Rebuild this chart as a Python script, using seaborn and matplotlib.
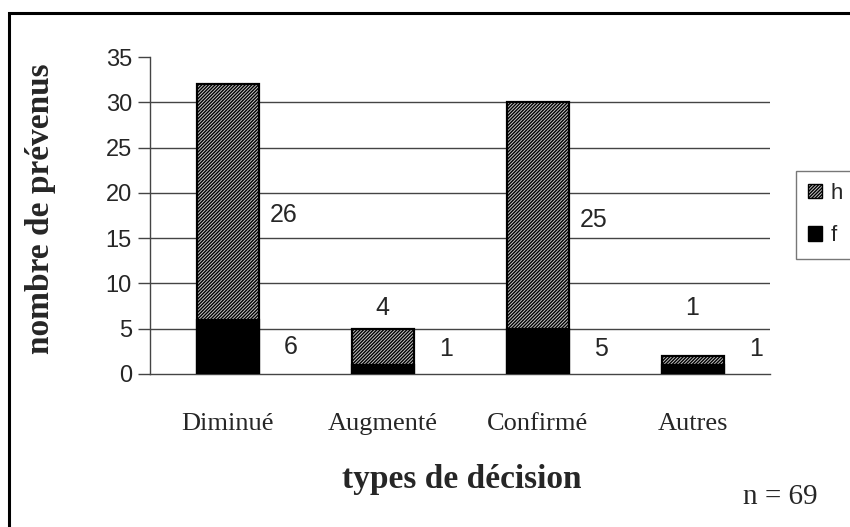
import matplotlib
matplotlib.use("Agg")
import matplotlib.pyplot as plt
from matplotlib.patches import Patch, Rectangle
import seaborn as sns
import pandas as pd

categories = ["Diminué", "Augmenté", "Confirmé", "Autres"]
f_values = [6, 1, 5, 1]
h_values = [26, 4, 25, 1]
y_ticks = [0, 5, 10, 15, 20, 25, 30, 35]
n_total = 69

df = pd.DataFrame({"decision": categories, "f": f_values, "h": h_values})
df["total"] = df["f"] + df["h"]

sns.set_style("white")
plt.rcParams["hatch.linewidth"] = 1.0
SANS = "Liberation Sans"
SERIF = "Liberation Serif"
HATCH = "//////////"

fig = plt.figure(figsize=(8.5, 5.27), dpi=100)
ax = fig.add_axes([150 / 850, 1 - 374 / 527, 620 / 850, 317 / 527])

# stacked bars: total (hatched h) first, then f drawn over its lower part
sns.barplot(data=df, x="decision", y="total", color="#c8c8c8", width=0.4,
            edgecolor="black", linewidth=1.6, ax=ax, zorder=3)
for p in ax.patches:
    p.set_hatch(HATCH)
    p.set_facecolor("#c8c8c8")
sns.barplot(data=df, x="decision", y="f", color="black", width=0.4,
            edgecolor="black", linewidth=1.6, ax=ax, zorder=4)

ax.set_xlim(-0.5, 3.5)
ax.set_ylim(0, 35)
ax.set_yticks(y_ticks)
ax.set_yticklabels([str(t) for t in y_ticks], fontfamily=SANS, fontsize=17)
for t in y_ticks[1:-1]:
    ax.axhline(t, color="#444444", lw=1, zorder=1)

ax.set_xticks(range(len(categories)))
ax.set_xticklabels(categories, fontfamily=SERIF, fontsize=19)
ax.set_xticks([i - 0.5 for i in range(len(categories) + 1)], minor=True)
ax.tick_params(axis="x", which="major", length=0, pad=28)
ax.tick_params(axis="x", which="minor", length=7, width=1, color="#444444", direction="out")
ax.tick_params(axis="y", length=9, width=1, color="#444444", direction="out", pad=4, left=True)

for side in ["top", "right"]:
    ax.spines[side].set_visible(False)
for side in ["left", "bottom"]:
    ax.spines[side].set_color("#444444")
    ax.spines[side].set_linewidth(1)

ax.set_xlabel("types de décision", fontfamily=SERIF, fontsize=24, fontweight="bold", va="center")
ax.set_ylabel("nombre de prévenus", fontfamily=SERIF, fontsize=24, fontweight="bold", va="center")
ax.xaxis.set_label_coords(0.503, -0.334)
ax.yaxis.set_label_coords(-0.177, 0.52)

# value labels
box = dict(facecolor="white", edgecolor="none", pad=3)
for i, (fv, hv) in enumerate(zip(f_values, h_values)):
    if hv >= 8:
        ax.text(i + 0.36, hv / 2 + 4.5, str(hv), ha="center", va="center",
                fontfamily=SANS, fontsize=18, bbox=box, zorder=5)
    else:
        ax.text(i, 7.3, str(hv), ha="center", va="center",
                fontfamily=SANS, fontsize=18, bbox=box, zorder=5)
    ax.text(i + 0.41, max(fv / 2, 2.8), str(fv), ha="center", va="center",
            fontfamily=SANS, fontsize=18, bbox=box, zorder=5, clip_on=False)

handles = [Patch(facecolor="#c8c8c8", edgecolor="black", hatch=HATCH, label="h"),
           Patch(facecolor="black", edgecolor="black", label="f")]
leg = fig.legend(handles=handles, loc="upper left", bbox_to_anchor=(796 / 850, 1 - 171 / 527),
                 prop={"family": SANS, "size": 16}, frameon=True, fancybox=False,
                 edgecolor="#555555", handlelength=0.6, handleheight=0.6,
                 handletextpad=0.4, borderpad=0.55, labelspacing=0.95, borderaxespad=0)
leg.get_frame().set_linewidth(1)

fig.text(780 / 850, 1 - 497 / 527, f"n = {n_total}", ha="center", va="center",
         fontfamily=SERIF, fontsize=21)

fig.patches.append(Rectangle((9 / 850, -0.1), 1.2, 1.1 - 13 / 527,
                             transform=fig.transFigure, fill=False,
                             edgecolor="black", lw=2.2))

fig.savefig("out.png", dpi=100)
